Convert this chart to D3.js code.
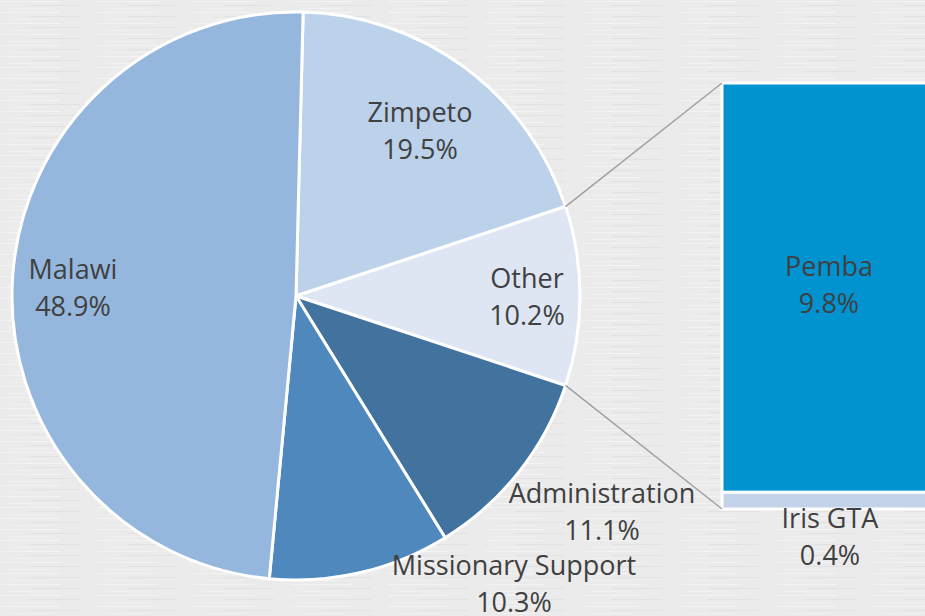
<!DOCTYPE html>
<html>
<head>
<meta charset="utf-8">
<script src="https://cdn.jsdelivr.net/npm/d3@7"></script>
<style>
  body { margin: 0; background: #ebebeb; }
  text { font-family: "Open Sans", Lato, sans-serif; fill: #404040; }
</style>
</head>
<body>
<div id="chart"></div>
<script>
// main pie, clockwise from the top
const pieNames = ["Zimpeto", "Other", "Administration", "Missionary Support", "Malawi"];
const pieValues = [19.5, 10.2, 11.1, 10.3, 48.9];
const pieColors = ["#bcd1ea", "#dfe6f3", "#42729e", "#4e88bc", "#95b7de"];

// breakdown of "Other" (bar of pie)
const barNames = ["Pemba", "Iris GTA"];
const barValues = [9.8, 0.4];
const barColors = ["#0093d0", "#c3d4ea"];

let width = 925, height = 616;
let cx = 296, cy = 296, radius = 284;
let barLeft = 722, barRight = 940, barTop = 83, barBottom = 509;

const svg = d3.select("#chart")
  .append("svg")
  .attr("width", width)
  .attr("height", height);

// brushed paper-ish background
const defs = svg.append("defs");
const pat = defs.append("pattern")
  .attr("id", "bg")
  .attr("patternUnits", "userSpaceOnUse")
  .attr("width", 97).attr("height", 11);
pat.append("rect").attr("width", 97).attr("height", 11).attr("fill", "#ebebeb");
pat.append("rect").attr("y", 1).attr("width", 60).attr("height", 1).attr("fill", "#f3f3f3");
pat.append("rect").attr("x", 30).attr("y", 5).attr("width", 50).attr("height", 1).attr("fill", "#e2e2e2");
pat.append("rect").attr("x", 10).attr("y", 8).attr("width", 40).attr("height", 1).attr("fill", "#f1f1f1");
svg.append("rect").attr("width", width).attr("height", height).attr("fill", "url(#bg)");

// rotate so "Other" sits centred on the right (3 o'clock), like Excel's bar of pie
const total = d3.sum(pieValues);
const otherIdx = pieNames.indexOf("Other");
const before = d3.sum(pieValues.slice(0, otherIdx));
const offset = Math.PI / 2 - (before + pieValues[otherIdx] / 2) / total * 2 * Math.PI;

const pie = d3.pie().sort(null).value(d => d.value)
  .startAngle(offset).endAngle(offset + 2 * Math.PI);
const arcs = pie(pieNames.map((n, i) => ({ name: n, value: pieValues[i], color: pieColors[i] })));

const arc = d3.arc().innerRadius(0).outerRadius(radius);

const g = svg.append("g").attr("transform", `translate(${cx},${cy})`);

g.selectAll("path")
  .data(arcs)
  .join("path")
  .attr("d", arc)
  .attr("fill", d => d.data.color)
  .attr("stroke", "#fff")
  .attr("stroke-width", 3)
  .attr("stroke-linejoin", "round");

// stacked bar for the "Other" breakdown
const y = d3.scaleLinear()
  .domain([0, d3.sum(barValues)])
  .range([barTop, barBottom]);

const stackData = [];
let acc = 0;
barValues.forEach((v, i) => {
  stackData.push({ name: barNames[i], value: v, y0: acc, y1: acc + v, color: barColors[i] });
  acc += v;
});

svg.append("g")
  .selectAll("rect")
  .data(stackData)
  .join("rect")
  .attr("x", barLeft)
  .attr("y", d => y(d.y0))
  .attr("width", barRight - barLeft)
  .attr("height", d => y(d.y1) - y(d.y0))
  .attr("fill", d => d.color)
  .attr("stroke", "#fff")
  .attr("stroke-width", 3);

// connector lines from the "Other" slice edges to the bar corners
const o = arcs[otherIdx];
const edge = a => [cx + radius * Math.sin(a), cy - radius * Math.cos(a)];
const conn = [
  [edge(o.startAngle), [barLeft, y(0)]],
  [edge(o.endAngle), [barLeft, y(d3.sum(barValues))]]
];
svg.append("g")
  .selectAll("line")
  .data(conn)
  .join("line")
  .attr("x1", d => d[0][0]).attr("y1", d => d[0][1])
  .attr("x2", d => d[1][0]).attr("y2", d => d[1][1])
  .attr("stroke", "#a0a0a0")
  .attr("stroke-width", 1.5);

// data labels (Excel placed these, so positions are set by hand)
const labelPos = {
  "Zimpeto": [420, 122],
  "Other": [527, 288],
  "Administration": [602, 503],
  "Missionary Support": [514, 575],
  "Malawi": [73, 279],
  "Pemba": [829, 276],
  "Iris GTA": [830, 528]
};
const fmt = v => v.toFixed(1) + "%";
const labels = pieNames.map((n, i) => ({ name: n, value: pieValues[i] }))
  .concat(barNames.map((n, i) => ({ name: n, value: barValues[i] })));

const lab = svg.append("g")
  .selectAll("text")
  .data(labels)
  .join("text")
  .attr("text-anchor", "middle")
  .attr("font-size", 27)
  .attr("transform", d => `translate(${labelPos[d.name][0]},${labelPos[d.name][1]})`);
lab.append("tspan").attr("x", 0).attr("y", 0).text(d => d.name);
lab.append("tspan").attr("x", 0).attr("y", 37).text(d => fmt(d.value));
</script>
</body>
</html>
